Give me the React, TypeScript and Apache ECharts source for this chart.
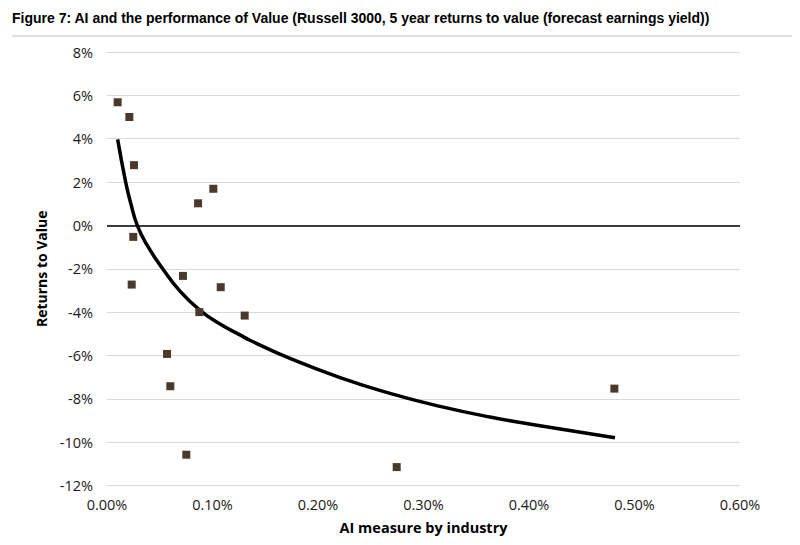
import React, { useEffect, useRef } from "react";
import * as echarts from "echarts";

const TITLE = "Figure 7: AI and the performance of Value (Russell 3000, 5 year returns to value (forecast earnings yield))";
const X_NAME = "AI measure by industry";
const Y_NAME = "Returns to Value";

// AI measure by industry (%), returns to value (%)
const aiMeasure = [0.0101, 0.0212, 0.0256, 0.0249, 0.0234, 0.0863, 0.1008, 0.072, 0.1078, 0.0875, 0.1305, 0.0569, 0.060, 0.0752, 0.2746, 0.4809];
const valueReturns = [5.68, 5.0, 2.78, -0.53, -2.73, 1.02, 1.69, -2.33, -2.85, -4.0, -4.16, -5.93, -7.42, -10.58, -11.15, -7.53];

// trend curve
const trendX = [0.0101, 0.0177, 0.0225, 0.0287, 0.0376, 0.0528, 0.0686, 0.0882, 0.1071, 0.126, 0.1355, 0.1735, 0.2209, 0.2682, 0.3156, 0.363, 0.4104, 0.4815];
const trendY = [3.97, 2.0, 1.02, 0.0, -0.88, -2.0, -3.0, -3.92, -4.55, -5.05, -5.3, -6.14, -7.02, -7.75, -8.35, -8.84, -9.24, -9.8];

const FONT = "'Open Sans', 'Noto Sans', sans-serif";

export default function App() {
  const ref = useRef<HTMLDivElement>(null);
  useEffect(() => {
    if (!ref.current) return;
    const chart = echarts.init(ref.current, undefined, { renderer: "svg" });
    const scatterData = aiMeasure.map((x, i) => [x, valueReturns[i]]);
    const trendData = trendX.map((x, i) => [x, trendY[i]]);
    chart.setOption({
      animation: false,
      backgroundColor: "#ffffff",
      textStyle: { fontFamily: FONT },
      grid: { left: 107, right: 60, top: 52, bottom: 59.5, containLabel: false },
      graphic: [
        {
          type: "text",
          left: 12,
          top: 11,
          style: {
            text: TITLE,
            font: "bold 14px 'Liberation Sans Narrow', 'Arial Narrow', sans-serif",
            fill: "#000000",
          },
        },
        {
          type: "line",
          shape: { x1: 12, y1: 36, x2: 792, y2: 36 },
          style: { stroke: "#d4d4d4", lineWidth: 1.5 },
        },
      ],
      xAxis: {
        type: "value",
        min: 0,
        max: 0.6,
        interval: 0.1,
        name: X_NAME,
        nameLocation: "middle",
        nameGap: 34,
        nameTextStyle: { fontFamily: FONT, fontWeight: "bold", fontSize: 14.5, color: "#000" },
        axisLine: { show: false },
        axisTick: { show: false },
        splitLine: { show: false },
        axisLabel: {
          margin: 11,
          fontSize: 14.5,
          color: "#1a1a1a",
          fontFamily: FONT,
          formatter: (v: number) => v.toFixed(2) + "%",
        },
      },
      yAxis: {
        type: "value",
        min: -12,
        max: 8,
        interval: 2,
        name: Y_NAME,
        nameLocation: "middle",
        nameGap: 53,
        nameRotate: 90,
        nameTextStyle: { fontFamily: FONT, fontWeight: "bold", fontSize: 14, color: "#000" },
        axisLine: { show: false },
        axisTick: { show: false },
        splitLine: { show: true, lineStyle: { color: "#d9d9d9", width: 1.2 } },
        axisLabel: {
          margin: 14,
          fontSize: 14.5,
          color: "#1a1a1a",
          fontFamily: FONT,
          formatter: (v: number) => v + "%",
        },
      },
      series: [
        {
          type: "line",
          data: trendData,
          smooth: 0.5,
          showSymbol: false,
          symbol: "none",
          lineStyle: { color: "#000000", width: 3.5 },
          z: 3,
          markLine: {
            silent: true,
            symbol: "none",
            label: { show: false },
            lineStyle: { color: "#000000", width: 1.5, type: "solid" },
            data: [{ yAxis: 0 }],
          },
        },
        {
          type: "scatter",
          data: scatterData,
          symbol: "rect",
          symbolSize: 8,
          itemStyle: { color: "#4a3a2e", opacity: 1 },
          z: 4,
        },
      ],
    });
    return () => chart.dispose();
  }, []);
  return (
    <div
      ref={ref}
      style={{ position: "fixed", left: 0, top: 0, width: 800, height: 545, background: "#fff" }}
    />
  );
}
